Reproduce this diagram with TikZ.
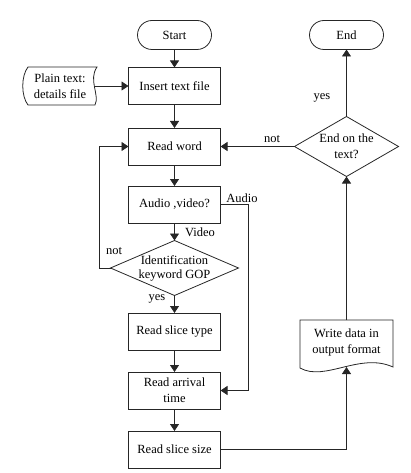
\documentclass[tikz,border=0pt]{standalone}
\usepackage{fontspec}
\setmainfont{Liberation Serif}
\usetikzlibrary{shapes.geometric,arrows.meta}
\begin{document}
\begin{tikzpicture}[x=1pt,y=-1pt,
 font=\fontsize{12.5}{16}\selectfont,
 line/.style={draw=black!85, line width=0.8pt},
 arr/.style={line, -{Triangle[length=7pt,width=9pt]}},
 proc/.style={line, rectangle, minimum width=92pt, minimum height=37pt, inner sep=2pt, align=center, outer sep=0pt},
 term/.style={line, rectangle, rounded corners=14.5pt, minimum width=74pt, minimum height=29pt, outer sep=0pt},
 dia/.style={line, diamond, inner sep=0pt, outer sep=0pt},
 lbl/.style={inner sep=0pt, align=center},
 txt/.style={inner sep=0pt, align=center, outer sep=0pt}]
\useasboundingbox (0,0) rectangle (410,473);

% main column
\node[term] (start) at (174.5,35) {Start};
\node[proc] (insert) at (174.5,86) {Insert text file};
\node[proc] (read) at (174.5,146.5) {Read word};
\node[proc] (av) at (174.5,204.5) {Audio ,video?};
\node[dia, minimum width=128pt, minimum height=55pt] (gop) at (174.5,268) {};
\node[txt, font=\fontsize{12.5}{14}\selectfont] (goptxt) at (gop.center) {Identification\\keyword GOP};
\node[proc] (type) at (174.5,331.5) {Read slice type};
\node[proc] (arrival) at (174.5,390.5) {Read arrival\\time};
\node[proc] (size) at (174.5,449.5) {Read slice size};

% input tape
\node[txt, minimum width=70pt, minimum height=38pt] (plain) at (60,86) {Plain text:\\details file};
\draw[line, shift={(plain.center)}] (-32,-19) -- (37,-19)
  .. controls (28,-6) and (40,9) .. (35,19) -- (-32,19)
  .. controls (-39,10) and (-39,-10) .. cycle;

% right column
\node[term] (stop) at (346.5,35) {End};
\node[dia, minimum width=104pt, minimum height=60pt] (eot) at (346.5,146.5) {};
\node[txt] (eottxt) at (eot.center) {End on the\\text?};
\node[txt, minimum width=93pt, minimum height=44pt] (write) at (346.5,342) {Write data in\\output format};
\draw[line, shift={(write.center)}] (-46.5,-22) -- (46.5,-22) -- (46.5,25)
  .. controls (13.5,10) and (-21.5,40) .. (-46.5,26) -- cycle;
\path (write.center) ++(0,25) coordinate (wbot);

% connectors
\draw[arr] (start) -- (insert);
\draw[arr] (plain.east) -- (insert.west);
\draw[arr] (insert) -- (read);
\draw[arr] (read) -- (av);
\draw[arr] (av) -- (gop.north);
\draw[arr] (gop.south) -- (type);
\draw[arr] (type) -- (arrival);
\draw[arr] (arrival) -- (size);
\draw[arr] (gop.west) -- ++(-11,0) |- (read.west);
\draw[arr] (av.east) -- ++(28,0) |- (arrival.east);
\draw[arr] (size.east) -| (wbot);
\draw[arr] (write.north) -- (eot.south);
\draw[arr] (eot.north) -- (stop.south);
\draw[arr] (eot.west) -- (read.east);

% labels
\node[lbl] (lvideo) at (200,232) {Video};
\node[lbl] (laudio) at (242,198) {Audio};
\node[lbl] (lnot1) at (114,251) {not};
\node[lbl] (lyes1) at (157,299) {yes};
\node[lbl] (lyes2) at (322,98) {yes};
\node[lbl] (lnot2) at (272,139) {not};
\end{tikzpicture}
\end{document}
